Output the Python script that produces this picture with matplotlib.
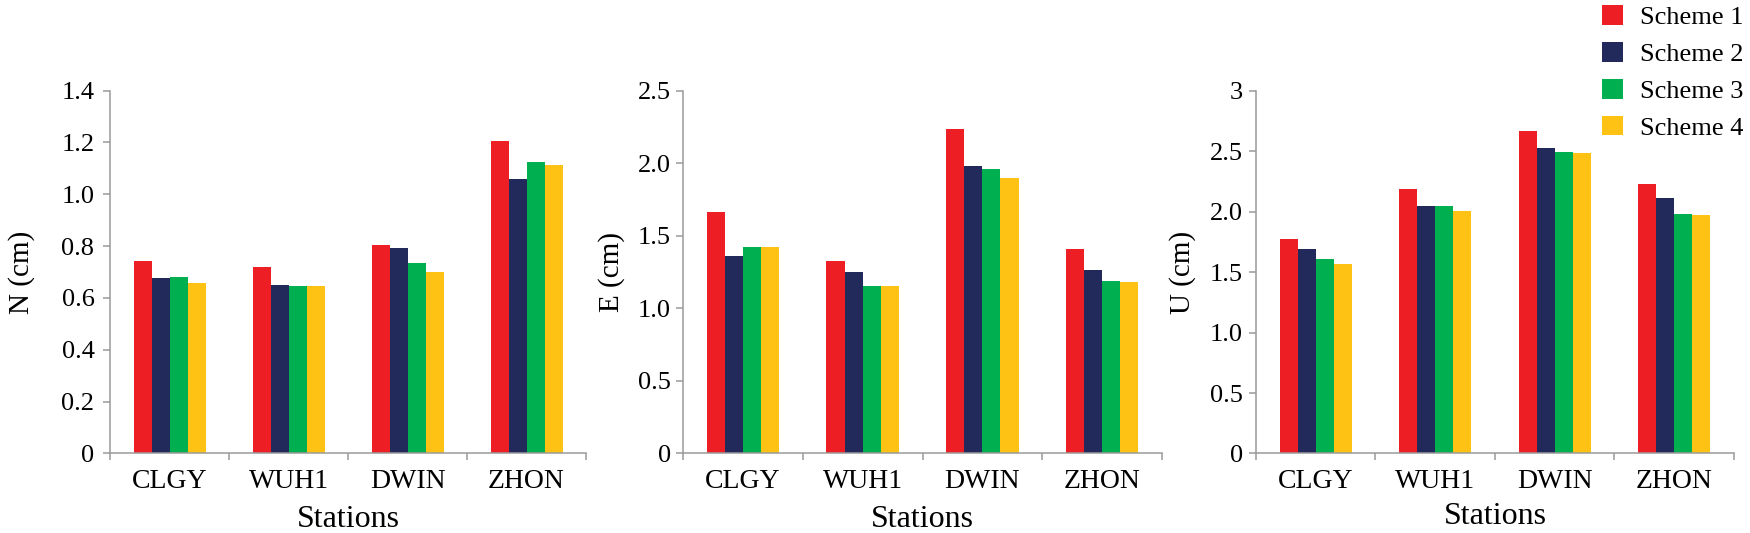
import numpy as np
import matplotlib
matplotlib.use('Agg')
import matplotlib.pyplot as plt
from matplotlib.patches import Patch
from matplotlib.ticker import FixedLocator, FuncFormatter

plt.rcParams['font.family'] = ['Liberation Serif', 'DejaVu Serif']

# ── Data ─────────────────────────────────────────────────────────
stations = ['CLGY', 'WUH1', 'DWIN', 'ZHON']
schemes = ['Scheme 1', 'Scheme 2', 'Scheme 3', 'Scheme 4']

n_vals = [[0.744, 0.720, 0.804, 1.205],
          [0.678, 0.651, 0.793, 1.061],
          [0.682, 0.646, 0.734, 1.123],
          [0.659, 0.646, 0.701, 1.115]]
e_vals = [[1.662, 1.324, 2.233, 1.411],
          [1.361, 1.251, 1.982, 1.267],
          [1.425, 1.151, 1.963, 1.189],
          [1.425, 1.151, 1.897, 1.185]]
u_vals = [[1.777, 2.189, 2.664, 2.231],
          [1.690, 2.049, 2.522, 2.116],
          [1.606, 2.049, 2.491, 1.982],
          [1.570, 2.001, 2.485, 1.976]]

colors = ['#ED1F24', '#222A5C', '#00AF50', '#FEC215']
spine_c = '#9a9a9a'

# ── Figure ───────────────────────────────────────────────────────
fig = plt.figure(figsize=(17.5, 5.33), dpi=100)

bottom, height = 0.1492, 0.6807
panels = [
    dict(vals=n_vals, rect=[0.0629, bottom, 0.2720, height], ylab='N (cm)',
         ymax=1.4, step=0.2, lab_x=-0.158, ypad=6.3, xlab_y=-0.143),
    dict(vals=e_vals, rect=[0.3903, bottom, 0.2737, height], ylab='E (cm)',
         ymax=2.5, step=0.5, lab_x=-0.121, ypad=3.8, xlab_y=-0.143),
    dict(vals=u_vals, rect=[0.7177, bottom, 0.2731, height], ylab='U (cm)',
         ymax=3.0, step=0.5, lab_x=-0.126, ypad=4.3, xlab_y=-0.133),
]

x = np.arange(len(stations))
width = 0.151

def fmt(v, pos):
    if abs(v) < 1e-9:
        return '0'
    if abs(v - 3) < 1e-9:
        return '3'
    return f'{v:.1f}'

for p in panels:
    ax = fig.add_axes(p['rect'])
    for i, vals in enumerate(p['vals']):
        ax.bar(x + (i - 1.5) * width, vals, width=width, color=colors[i],
               linewidth=0)
    ax.set_xlim(-0.5, len(stations) - 0.5)
    ax.set_ylim(0, p['ymax'])
    ax.set_yticks(np.arange(0, p['ymax'] + 1e-9, p['step']))
    ax.yaxis.set_major_formatter(FuncFormatter(fmt))
    ax.set_xticks(x)
    ax.set_xticklabels(stations)
    ax.xaxis.set_minor_locator(FixedLocator(np.arange(-0.5, len(stations), 1.0)))
    ax.tick_params(axis='x', which='major', length=0, pad=11.5, labelsize=20)
    ax.tick_params(axis='x', which='minor', length=5, width=1.1, color=spine_c,
                   direction='out')
    ax.tick_params(axis='y', length=5, width=1.1, color=spine_c, direction='out',
                   pad=p['ypad'], labelsize=19)
    for s in ['top', 'right']:
        ax.spines[s].set_visible(False)
    for s in ['left', 'bottom']:
        ax.spines[s].set_color(spine_c)
        ax.spines[s].set_linewidth(1.1)
    ax.set_ylabel(p['ylab'], fontsize=21)
    ax.yaxis.set_label_coords(p['lab_x'], 0.5)
    ax.set_xlabel('Stations', fontsize=23)
    ax.xaxis.set_label_coords(0.5, p['xlab_y'])

handles = [Patch(facecolor=c, edgecolor='none') for c in colors]
fig.legend(handles, schemes, loc='upper left', bbox_to_anchor=(0.9154, 0.99),
           frameon=False, fontsize=19, handlelength=0.8, handleheight=0.76,
           handletextpad=0.64, labelspacing=0.49, borderaxespad=0, borderpad=0)

plt.savefig('out.png', dpi=100)
plt.close()
